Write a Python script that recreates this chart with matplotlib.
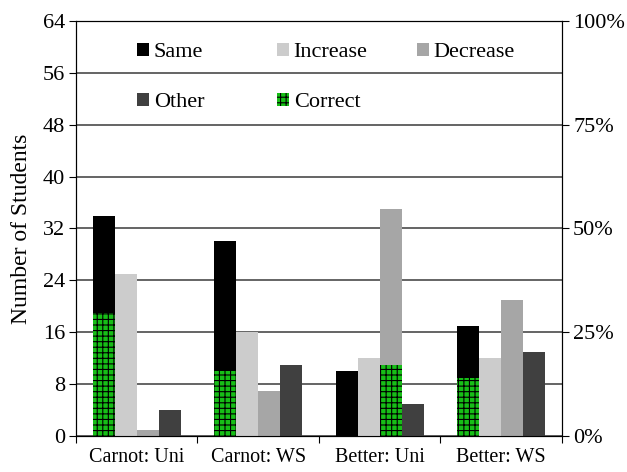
import numpy as np
import matplotlib.pyplot as plt
from matplotlib.patches import Patch
from matplotlib.legend import Legend

plt.rcParams['font.family'] = ['Liberation Serif', 'DejaVu Serif']
plt.rcParams['hatch.linewidth'] = 0.8
plt.rcParams['hatch.color'] = 'black'

groups = ['Carnot: Uni', 'Carnot: WS', 'Better: Uni', 'Better: WS']
series = ['Same', 'Increase', 'Decrease', 'Other']
same = [34, 30, 10, 17]
increase = [25, 16, 12, 12]
decrease = [1, 7, 35, 21]
other = [4, 11, 5, 13]
correct = [19, 10, 11, 9]
correct_series = ['Same', 'Same', 'Decrease', 'Same']

colors = {'Same': '#000000', 'Increase': '#cccccc',
          'Decrease': '#a6a6a6', 'Other': '#404040'}
green = '#17be17'

values = {'Same': same, 'Increase': increase, 'Decrease': decrease, 'Other': other}

fig = plt.figure(figsize=(6.27, 4.72), dpi=100)
ax = fig.add_axes([0.1212, 0.0763, 0.775, 0.8792])

ind = np.arange(len(groups))
width = 0.181
offsets = (np.arange(len(series)) - 1.5) * width

for k, name in enumerate(series):
    ax.bar(ind + offsets[k], values[name], width, color=colors[name],
           zorder=3, linewidth=0)

# correct answers drawn over the matching bar
for i in range(len(groups)):
    k = series.index(correct_series[i])
    ax.bar(ind[i] + offsets[k], correct[i], width, color=green,
           hatch='+++', edgecolor='black', linewidth=0, zorder=4)

ax.set_xlim(-0.5, len(groups) - 0.5)
ax.set_ylim(0, 64)
ax.set_yticks(np.arange(0, 65, 8))
ax.yaxis.grid(True, color='#4a4a4a', linewidth=1.2, zorder=0)
ax.set_axisbelow(True)
ax.tick_params(axis='y', direction='out', length=5, labelsize=16, pad=3)

ax.set_xticks(np.arange(-0.5, len(groups)), minor=False)
ax.set_xticklabels([])
ax.tick_params(axis='x', which='major', direction='out', length=5)
ax.set_xticks(ind, minor=True)
ax.set_xticklabels(groups, minor=True, fontsize=14.5)
ax.tick_params(axis='x', which='minor', length=0, pad=9)

ax.set_ylabel('Number of Students', fontsize=17, labelpad=8)

ax2 = ax.twinx()
ax2.set_ylim(0, 1)
ax2.set_yticks([0, 0.25, 0.5, 0.75, 1.0])
ax2.set_yticklabels(['0%', '25%', '50%', '75%', '100%'])
ax2.tick_params(axis='y', direction='out', length=5, labelsize=16, pad=3)

# legend: three equally spaced columns
columns = [(['Same', 'Other'], [Patch(facecolor=colors['Same']), Patch(facecolor=colors['Other'])]),
           (['Increase', 'Correct'], [Patch(facecolor=colors['Increase']),
                                      Patch(facecolor=green, hatch='+++', edgecolor='black', linewidth=0)]),
           (['Decrease'], [Patch(facecolor=colors['Decrease'])])]
col_x = [0.1255, 0.4136, 0.7016]
for x, (labels, handles) in zip(col_x, columns):
    leg = Legend(ax2, handles, labels, loc='upper left', bbox_to_anchor=(x, 0.948),
                 frameon=False, prop={'family': 'Liberation Serif', 'size': 16},
                 handlelength=0.55, handleheight=0.55, handletextpad=0.2,
                 labelspacing=1.37, borderpad=0, borderaxespad=0)
    leg.set_zorder(10)
    ax2.add_artist(leg)

plt.savefig('out.png', dpi=100)
